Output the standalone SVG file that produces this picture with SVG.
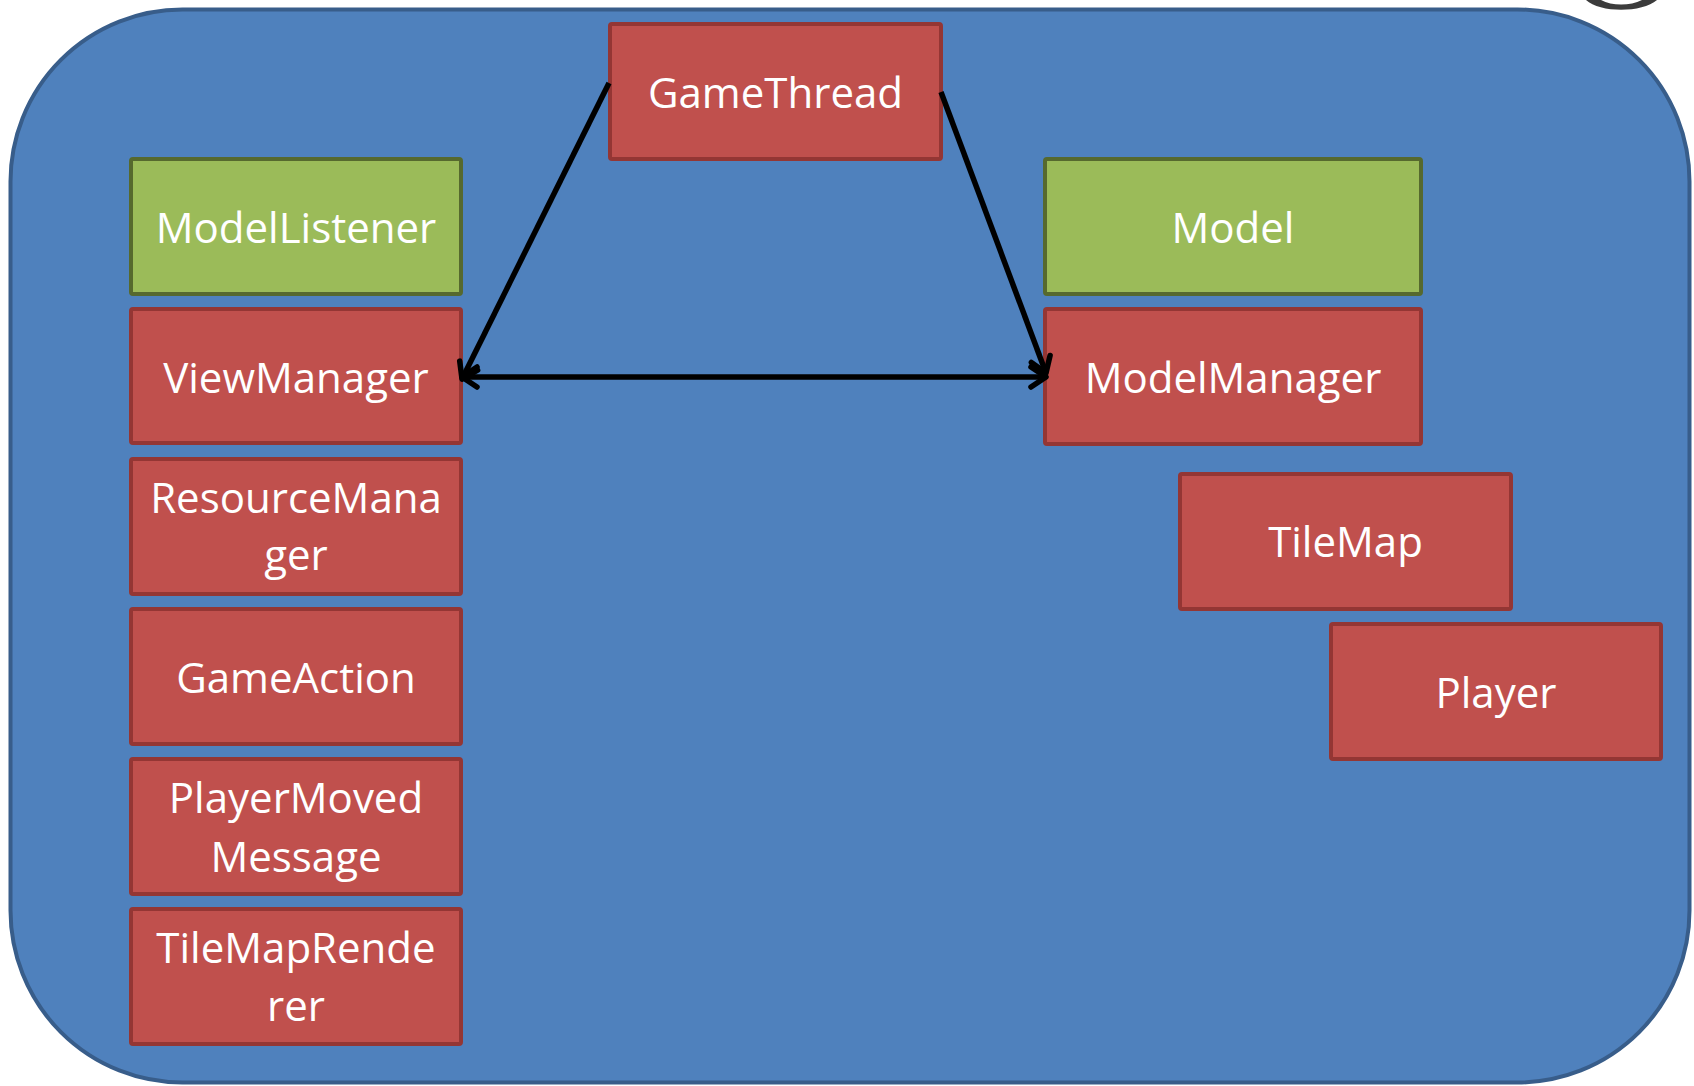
<svg xmlns="http://www.w3.org/2000/svg" width="1694" height="1086" viewBox="0 0 1694 1086">
  <defs>
    <style>
      .red { fill: #c0504d; stroke: #943634; stroke-width: 4; }
      .green { fill: #9bbb59; stroke: #56692e; stroke-width: 4; }
      .lbl { font-family: "Open Sans", "Liberation Sans", sans-serif; font-size: 42px; fill: #ffffff; text-anchor: middle; }
      .conn { stroke: #000000; stroke-width: 5.5; fill: none; }
    </style>
    <marker id="arr" viewBox="-22 -15 26 30" markerWidth="26" markerHeight="30" refX="0" refY="0" orient="auto-start-reverse" markerUnits="userSpaceOnUse">
      <path d="M-15,-10 L0,0 L-15,10" fill="none" stroke="#000000" stroke-width="5.5" stroke-linecap="round" stroke-linejoin="round"/>
    </marker>
  </defs>

  <path d="M1586,0 C1600,13 1642,13 1657,0 L1642,0 C1630,6 1612,6 1601,0 Z" fill="#3c3c3c"/>

  <rect id="background" x="10.5" y="9.5" width="1679" height="1073" rx="172" ry="172" fill="#4f81bd" stroke="#385d8a" stroke-width="4"/>

  <g id="GameThread">
    <rect class="red" x="610" y="24" width="331" height="135" rx="2"/>
    <text class="lbl" x="775.5" y="108">GameThread</text>
  </g>
  <g id="ModelListener">
    <rect class="green" x="131" y="159" width="330" height="135" rx="2"/>
    <text class="lbl" x="296" y="243">ModelListener</text>
  </g>
  <g id="ViewManager">
    <rect class="red" x="131" y="309" width="330" height="134" rx="2"/>
    <text class="lbl" x="296" y="393">ViewManager</text>
  </g>
  <g id="ResourceManager">
    <rect class="red" x="131" y="459" width="330" height="135" rx="2"/>
    <text class="lbl" x="296" y="513">ResourceMana</text>
    <text class="lbl" x="296" y="570">ger</text>
  </g>
  <g id="GameAction">
    <rect class="red" x="131" y="609" width="330" height="135" rx="2"/>
    <text class="lbl" x="296" y="693">GameAction</text>
  </g>
  <g id="PlayerMovedMessage">
    <rect class="red" x="131" y="759" width="330" height="135" rx="2"/>
    <text class="lbl" x="296" y="813">PlayerMoved</text>
    <text class="lbl" x="296" y="872">Message</text>
  </g>
  <g id="TileMapRenderer">
    <rect class="red" x="131" y="909" width="330" height="135" rx="2"/>
    <text class="lbl" x="296" y="963">TileMapRende</text>
    <text class="lbl" x="296" y="1021">rer</text>
  </g>
  <g id="Model">
    <rect class="green" x="1045" y="159" width="376" height="135" rx="2"/>
    <text class="lbl" x="1233" y="243">Model</text>
  </g>
  <g id="ModelManager">
    <rect class="red" x="1045" y="309" width="376" height="135" rx="2"/>
    <text class="lbl" x="1233" y="393">ModelManager</text>
  </g>
  <g id="TileMap">
    <rect class="red" x="1180" y="474" width="331" height="135" rx="2"/>
    <text class="lbl" x="1345.5" y="557">TileMap</text>
  </g>
  <g id="Player">
    <rect class="red" x="1331" y="624" width="330" height="135" rx="2"/>
    <text class="lbl" x="1496" y="708">Player</text>
  </g>

  <g id="connectors">
    <line class="conn" x1="609" y1="83" x2="462" y2="379" marker-end="url(#arr)"/>
    <line class="conn" x1="941" y1="92" x2="1046" y2="373" marker-end="url(#arr)"/>
    <line class="conn" x1="462" y1="377" x2="1046" y2="377" marker-start="url(#arr)" marker-end="url(#arr)"/>
  </g>
</svg>
